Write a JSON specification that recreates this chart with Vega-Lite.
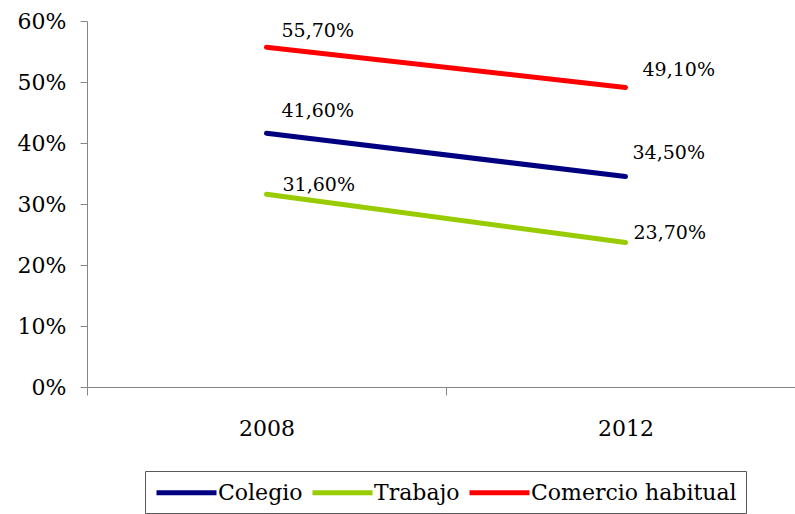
{
  "$schema": "https://vega.github.io/schema/vega-lite/v6.json",
  "width": 718,
  "height": 366,
  "autosize": {"type": "none"},
  "padding": {"left": 87, "top": 21, "right": 0, "bottom": 127},
  "background": "white",
  "config": {
    "locale": {"number": {"decimal": ",", "thousands": ".", "grouping": [3], "currency": ["", " €"]}},
    "view": {"stroke": null},
    "font": "DejaVu Serif",
    "axis": {"grid": false, "domainColor": "#868686", "tickColor": "#868686", "labelColor": "#000000", "labelFont": "DejaVu Serif", "title": null}
  },
  "data": {
    "values": [
      {"year": 2008, "serie": "Colegio", "value": 0.416},
      {"year": 2012, "serie": "Colegio", "value": 0.345},
      {"year": 2008, "serie": "Trabajo", "value": 0.316},
      {"year": 2012, "serie": "Trabajo", "value": 0.237},
      {"year": 2008, "serie": "Comercio habitual", "value": 0.557},
      {"year": 2012, "serie": "Comercio habitual", "value": 0.491}
    ]
  },
  "encoding": {
    "x": {
      "field": "year", "type": "quantitative",
      "scale": {"domain": [2006, 2014], "nice": false, "zero": false},
      "axis": {
        "values": [2006, 2008, 2010, 2012, 2014],
        "format": "d",
        "labelExpr": "datum.value == 2008 || datum.value == 2012 ? datum.label : ''",
        "tickOpacity": {"condition": {"test": "datum.value == 2008 || datum.value == 2012", "value": 0}, "value": 1},
        "tickSize": 8,
        "labelFontSize": 22,
        "labelPadding": 23,
        "labelFlush": false,
        "domainWidth": 1
      }
    },
    "y": {
      "field": "value", "type": "quantitative",
      "scale": {"domain": [0, 0.6], "nice": false},
      "axis": {"values": [0, 0.1, 0.2, 0.3, 0.4, 0.5, 0.6], "format": ".0%", "tickSize": 7, "labelFontSize": 22, "labelPadding": 14, "labelFlush": false}
    }
  },
  "layer": [
    {
      "mark": {"type": "line", "strokeWidth": 5, "strokeCap": "round"},
      "encoding": {
        "color": {
          "field": "serie", "type": "nominal",
          "scale": {"domain": ["Colegio", "Trabajo", "Comercio habitual"], "range": ["#000080", "#99CC00", "#FF0000"]},
          "legend": {
            "title": null,
            "orient": "none",
            "legendX": 58,
            "legendY": 450,
            "direction": "horizontal",
            "symbolType": "M-3,0H3",
            "symbolSize": 400,
            "symbolStrokeWidth": 5,
            "symbolOffset": 20,
            "labelFontSize": 22,
            "labelFont": "DejaVu Serif",
            "labelColor": "#000000",
            "labelLimit": 300,
            "labelOffset": 19,
            "columnPadding": -1,
            "padding": 9,
            "strokeColor": "#595959",
            "fillColor": "white"
          }
        }
      }
    },
    {
      "transform": [{"filter": "datum.year == 2008 && datum.serie == 'Comercio habitual'"}],
      "mark": {"type": "text", "align": "left", "baseline": "middle", "dx": 15, "dy": -16, "fontSize": 19, "color": "#000000"},
      "encoding": {"text": {"field": "value", "type": "quantitative", "format": ".2%"}}
    },
    {
      "transform": [{"filter": "datum.year == 2008 && datum.serie == 'Colegio'"}],
      "mark": {"type": "text", "align": "left", "baseline": "middle", "dx": 15, "dy": -22, "fontSize": 19, "color": "#000000"},
      "encoding": {"text": {"field": "value", "type": "quantitative", "format": ".2%"}}
    },
    {
      "transform": [{"filter": "datum.year == 2008 && datum.serie == 'Trabajo'"}],
      "mark": {"type": "text", "align": "left", "baseline": "middle", "dx": 16, "dy": -9, "fontSize": 19, "color": "#000000"},
      "encoding": {"text": {"field": "value", "type": "quantitative", "format": ".2%"}}
    },
    {
      "transform": [{"filter": "datum.year == 2012 && datum.serie == 'Comercio habitual'"}],
      "mark": {"type": "text", "align": "left", "baseline": "middle", "dx": 17, "dy": -17, "fontSize": 19, "color": "#000000"},
      "encoding": {"text": {"field": "value", "type": "quantitative", "format": ".2%"}}
    },
    {
      "transform": [{"filter": "datum.year == 2012 && datum.serie == 'Colegio'"}],
      "mark": {"type": "text", "align": "left", "baseline": "middle", "dx": 7, "dy": -24, "fontSize": 19, "color": "#000000"},
      "encoding": {"text": {"field": "value", "type": "quantitative", "format": ".2%"}}
    },
    {
      "transform": [{"filter": "datum.year == 2012 && datum.serie == 'Trabajo'"}],
      "mark": {"type": "text", "align": "left", "baseline": "middle", "dx": 8, "dy": -9, "fontSize": 19, "color": "#000000"},
      "encoding": {"text": {"field": "value", "type": "quantitative", "format": ".2%"}}
    }
  ]
}
